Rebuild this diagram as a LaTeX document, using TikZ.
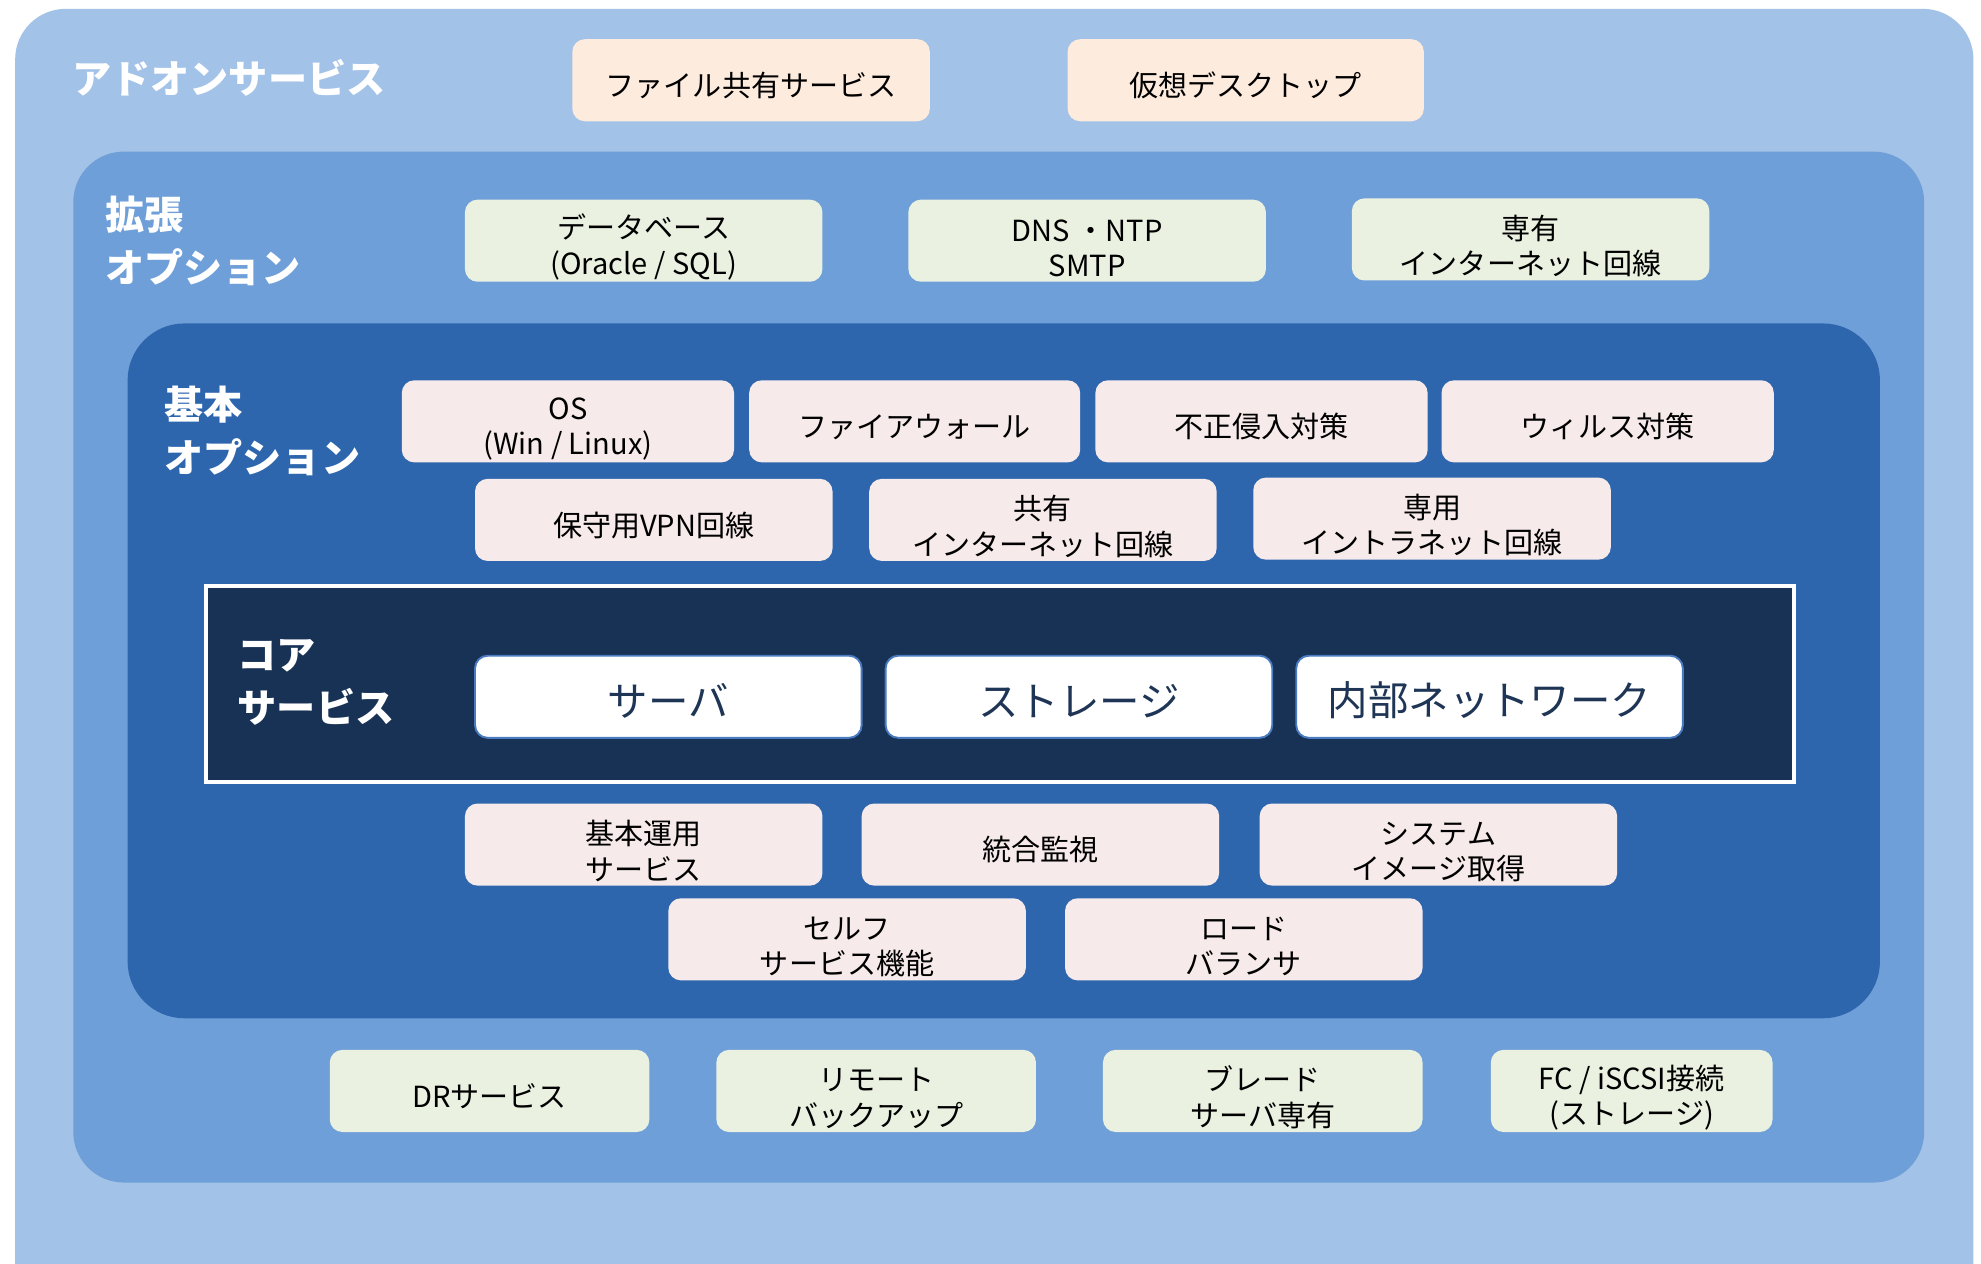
\documentclass[tikz,border=0pt]{standalone}
\usepackage{fontspec}
\setmainfont{Noto Sans CJK JP}
\usetikzlibrary{shadows}
\definecolor{outerc}{HTML}{A3C2E7}
\definecolor{extc}{HTML}{6E9FD8}
\definecolor{basicc}{HTML}{2E66AE}
\definecolor{corec}{HTML}{183256}
\definecolor{peach}{HTML}{FDEBDE}
\definecolor{greenb}{HTML}{EAF1E1}
\definecolor{pinkb}{HTML}{F7EAEA}
\definecolor{coretext}{HTML}{1E3556}
\definecolor{coreborder}{HTML}{4A7BC0}
\def\boxstruth{27.5pt}
\begin{document}
\begin{tikzpicture}[x=1pt,y=-1pt,
  strut h/.store in=\boxstruth,
  box/.style={rounded corners=10pt, minimum height=65pt, inner sep=0pt, align=center,
    font=\fontsize{23}{28}\selectfont, text=black, strut h=27.5pt,
    execute at begin node={\rule{0pt}{\boxstruth}}},
  two/.style={strut h=57.5pt},
  addon/.style={box, fill=peach},
  ext/.style={box, fill=greenb},
  basic/.style={box, fill=pinkb},
  core/.style={box, fill=white, draw=coreborder, line width=1.5pt, text=coretext,
    font=\fontsize{32}{36}\selectfont, minimum width=306pt, strut h=32pt},
  title/.style={anchor=west, align=left, text=white, font=\bfseries\fontsize{31}{42}\selectfont, inner sep=0pt}
]
\useasboundingbox (0,0) rectangle (1568,1000);
\fill[white] (0,0) rectangle (1568,1000);
% layers
\fill[outerc, rounded corners=40pt] (12,7) rectangle (1562,1040);
\fill[extc, rounded corners=40pt] (58,120) rectangle (1523,936);
\fill[basicc, rounded corners=45pt] (101,256) rectangle (1488,806);
\node[draw=white, line width=3pt, fill=corec, minimum width=1257pt, minimum height=155pt,
  inner sep=0pt, drop shadow={opacity=0.35, shadow xshift=1.5pt, shadow yshift=-1.5pt}]
  (coreframe) at (791.5,541.5) {};

% titles
\node[title] (taddon) at (57,62) {アドオンサービス};
\node[title] (text) at (83,191) {拡張\\オプション};
\node[title] (tbasic) at (130,341) {基本\\オプション};
\node[title] (tcore) at (188,540) {コア\\サービス};

% addon
\node[addon, minimum width=283pt] (a1) at (594.5,63.5) {ファイル共有サービス};
\node[addon, minimum width=282pt] (a2) at (986,63.5) {仮想デスクトップ};

% extension
\node[ext, two, minimum width=283pt] (e1) at (509.5,190.5) {データベース\\(Oracle / SQL)};
\node[ext, two, minimum width=283pt] (e2) at (860.5,190.5) {DNS ・NTP\\SMTP};
\node[ext, two, minimum width=283pt] (e3) at (1211.5,189.5) {専有\\インターネット回線};
\node[ext, minimum width=253pt] (e4) at (387.5,863.5) {DRサービス};
\node[ext, two, minimum width=253pt] (e5) at (693.5,863.5) {リモート\\バックアップ};
\node[ext, two, minimum width=253pt] (e6) at (999.5,863.5) {ブレード\\サーバ専有};
\node[ext, two, minimum width=223pt] (e7) at (1291.5,863.5) {FC / iSCSI接続\\(ストレージ)};

% basic
\node[basic, two, minimum width=263pt] (b1) at (449.5,333.5) {OS\\(Win / Linux)};
\node[basic, minimum width=262pt] (b2) at (724,333.5) {ファイアウォール};
\node[basic, minimum width=263pt] (b3) at (998.5,333.5) {不正侵入対策};
\node[basic, minimum width=263pt] (b4) at (1272.5,333.5) {ウィルス対策};
\node[basic, minimum width=283pt] (b5) at (517.5,411.5) {保守用VPN回線};
\node[basic, two, minimum width=275pt] (b6) at (825.5,411.5) {共有\\インターネット回線};
\node[basic, two, minimum width=283pt] (b7) at (1133.5,410.5) {専用\\イントラネット回線};
\node[basic, two, minimum width=283pt] (b8) at (509.5,668.5) {基本運用\\サービス};
\node[basic, minimum width=283pt] (b9) at (823.5,668.5) {統合監視};
\node[basic, two, minimum width=283pt] (b10) at (1138.5,668.5) {システム\\イメージ取得};
\node[basic, two, minimum width=283pt] (b11) at (670.5,743.5) {セルフ\\サービス機能};
\node[basic, two, minimum width=283pt] (b12) at (984.5,743.5) {ロード\\バランサ};

% core
\node[core] (c1) at (529,551.5) {サーバ};
\node[core] (c2) at (854,551.5) {ストレージ};
\node[core] (c3) at (1179,551.5) {内部ネットワーク};
\end{tikzpicture}
\end{document}
